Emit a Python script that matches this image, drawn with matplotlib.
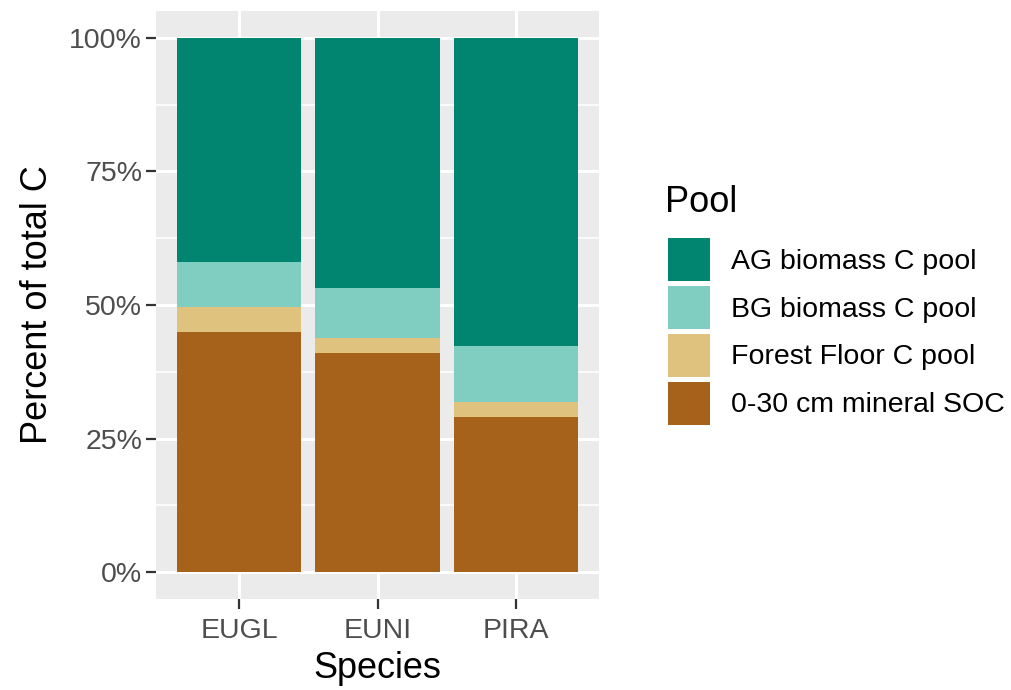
import matplotlib.pyplot as plt
import numpy as np
from matplotlib.ticker import FixedLocator

plt.rcParams['font.family'] = ['Liberation Sans', 'DejaVu Sans']

species = ["EUGL", "EUNI", "PIRA"]
# percent of total C, bottom to top of each bar
soc = np.array([45.0, 41.0, 29.1])      # 0-30 cm mineral SOC
ff = np.array([4.6, 2.8, 2.8])          # Forest Floor C pool
bg = np.array([8.5, 9.4, 10.5])         # BG biomass C pool
ag = 100 - soc - ff - bg                # AG biomass C pool

pools = ["0-30 cm mineral SOC", "Forest Floor C pool", "BG biomass C pool", "AG biomass C pool"]
colors = ["#A6611A", "#DFC27D", "#80CDC1", "#018571"]

fig = plt.figure(figsize=(10.11, 6.9), dpi=100)
ax = fig.add_axes([156/1011, 1 - 599/690, 443/1011, (599 - 11)/690])
ax.set_facecolor("#EBEBEB")

x = np.arange(len(species))
bottom = np.zeros(len(species))
handles = []
for vals, lab, col in zip([soc, ff, bg, ag], pools, colors):
    h = ax.bar(x, vals, width=0.9, bottom=bottom, color=col, label=lab, zorder=3)
    handles.append(h)
    bottom = bottom + vals

ax.set_xlim(-0.6, 2.6)
ax.set_ylim(-5, 105)
ax.set_xticks(x)
ax.set_xticklabels(species)
ax.set_yticks([0, 25, 50, 75, 100])
ax.set_yticklabels(["0%", "25%", "50%", "75%", "100%"])
ax.yaxis.set_minor_locator(FixedLocator([12.5, 37.5, 62.5, 87.5]))
ax.xaxis.set_minor_locator(FixedLocator([]))
ax.grid(which="major", color="white", linewidth=2.2, zorder=0)
ax.grid(which="minor", axis="y", color="white", linewidth=1.1, zorder=0)
ax.set_axisbelow(True)
for s in ax.spines.values():
    s.set_visible(False)
ax.tick_params(which="major", width=1.6, color="#333333",
               labelcolor="#4D4D4D", labelsize=20.5)
ax.tick_params(axis="x", which="major", length=7.5, pad=6)
ax.tick_params(axis="y", which="major", length=7, pad=3)
ax.tick_params(which="minor", length=0)

ax.set_xlabel("Species", fontsize=26, labelpad=5)
ax.set_ylabel("Percent of total C", fontsize=26, labelpad=10)

# legend title placed separately so the gap to the keys matches
fig.text(665/1011, 1 - 212/690, "Pool", fontsize=26, ha="left", va="baseline")
fig.legend(handles=handles[::-1], labels=pools[::-1],
           loc="upper left", bbox_to_anchor=(668/1011, 1 - 238/690),
           frameon=False, fontsize=20.5,
           handlelength=1.47, handleheight=1.945, labelspacing=0.175,
           handletextpad=0.75, borderpad=0, borderaxespad=0)

fig.savefig("out.png", dpi=100)
